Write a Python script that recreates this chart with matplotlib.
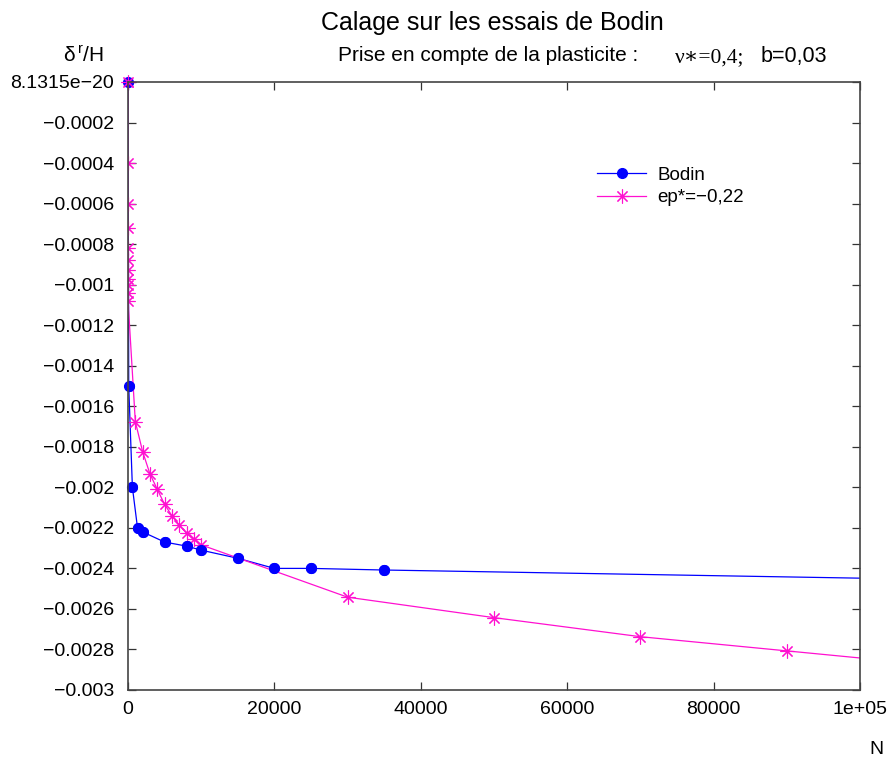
import matplotlib
matplotlib.use('Agg')
import matplotlib.pyplot as plt
from matplotlib.ticker import FixedLocator, FixedFormatter

plt.rcParams['font.family'] = ['Liberation Sans', 'DejaVu Sans']

# data
bodin_n = [0, 100, 600, 1300, 2000, 5000, 8000, 10000, 15000, 20000, 25000, 35000, 200000]
bodin_d = [0, -0.0015, -0.002, -0.0022, -0.00222, -0.00227, -0.00229, -0.00231,
           -0.00235, -0.0024, -0.0024, -0.002408, -0.00251]

ep_n = [0, 1, 2, 3, 4, 5, 6, 7, 8, 9, 10,
        1000, 2000, 3000, 4000, 5000, 6000, 7000, 8000, 9000, 10000,
        30000, 50000, 70000, 90000, 110000]
ep_d = [0, -0.0004, -0.0006, -0.00072, -0.00082, -0.00088, -0.00093, -0.00097,
        -0.001, -0.00104, -0.00108,
        -0.001676, -0.001824, -0.001934, -0.00201, -0.002084, -0.00214, -0.002186,
        -0.002227, -0.002256, -0.002284,
        -0.002542, -0.002643, -0.002737, -0.002807, -0.002877]

xticks = [0, 20000, 40000, 60000, 80000, 100000]
xtick_labels = ['0', '20000', '40000', '60000', '80000', '1e+05']
yticks = [0, -0.0002, -0.0004, -0.0006, -0.0008, -0.001, -0.0012, -0.0014, -0.0016,
          -0.0018, -0.002, -0.0022, -0.0024, -0.0026, -0.0028, -0.003]
ytick_labels = ['8.1315e\u221220', '\u22120.0002', '\u22120.0004', '\u22120.0006',
                '\u22120.0008', '\u22120.001', '\u22120.0012', '\u22120.0014',
                '\u22120.0016', '\u22120.0018', '\u22120.002', '\u22120.0022',
                '\u22120.0024', '\u22120.0026', '\u22120.0028', '\u22120.003']

blue = '#0000ff'
pink = '#ff10d0'
star = (8, 2, 0)

W, H = 889, 767
fig = plt.figure(figsize=(W / 100, H / 100), dpi=100)
ax = fig.add_axes([128 / W, 1 - 690 / H, (860 - 128) / W, (690 - 82) / H])

ax.plot(bodin_n, bodin_d, color=blue, lw=0.9, marker='o', ms=7, label='Bodin')
ax.plot(ep_n, ep_d, color=pink, lw=0.9, marker=star, ms=10, mew=0.8,
        label='ep*=\u22120,22')
# markers that sit on the frame are not clipped
bn = [n for n in bodin_n if n <= 100000]
ax.plot(bn, bodin_d[:len(bn)], ls='none', color=blue, marker='o', ms=7, clip_on=False)
ax.plot(ep_n[:1], ep_d[:1], ls='none', color=pink, marker=star, ms=10, mew=0.8, clip_on=False)

ax.set_xlim(0, 100000)
ax.set_ylim(-0.003, 0)
ax.xaxis.set_major_locator(FixedLocator(xticks))
ax.xaxis.set_major_formatter(FixedFormatter(xtick_labels))
ax.yaxis.set_major_locator(FixedLocator(yticks))
ax.yaxis.set_major_formatter(FixedFormatter(ytick_labels))
ax.tick_params(direction='in', length=6, width=0.9, color='#333333', labelsize=14,
               top=True, right=True)
ax.tick_params(axis='y', pad=10)
ax.tick_params(axis='x', pad=8)
for s in ax.spines.values():
    s.set_linewidth(1.2)
    s.set_color('#444444')

leg = ax.legend(loc='upper left', bbox_to_anchor=(588 / W, 1 - 157 / H),
                bbox_transform=fig.transFigure, frameon=False, fontsize=13.5,
                handlelength=2.6, handletextpad=0.6, labelspacing=0.3, borderpad=0)

fig.text(492 / W, 1 - 30 / H, 'Calage sur les essais de Bodin', fontsize=18,
         ha='center', va='baseline')
fig.text(338 / W, 1 - 61 / H, 'Prise en compte de la plasticite :', fontsize=15,
         ha='left', va='baseline')
fig.text(675 / W, 1 - 62 / H, '\u03bd\u2217=0,4;', fontsize=15.5,
         family=['Liberation Serif', 'DejaVu Serif'], ha='left', va='baseline')
fig.text(761 / W, 1 - 62 / H, 'b=0,03', fontsize=15.5, ha='left', va='baseline')
fig.text(63 / W, 1 - 62 / H, r'$\mathregular{\delta^{\,r}/H}$', fontsize=15,
         ha='left', va='baseline')
fig.text(876 / W, 1 - 750 / H, 'N', fontsize=14, ha='center', va='center')

fig.savefig('out.png', dpi=100)
